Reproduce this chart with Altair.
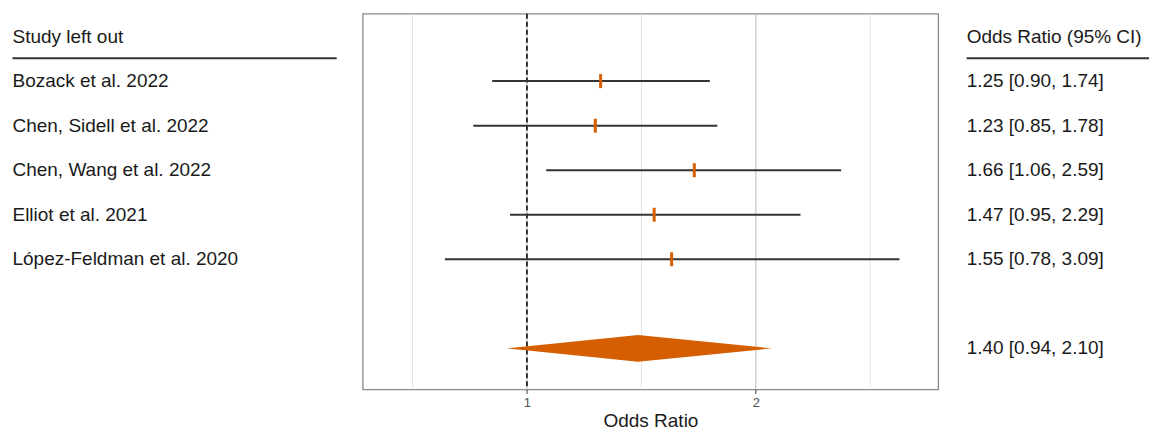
import altair as alt
import pandas as pd

# ---- data ----
studies = ["Bozack et al. 2022", "Chen, Sidell et al. 2022", "Chen, Wang et al. 2022",
           "Elliot et al. 2021", "López-Feldman et al. 2020"]
or_est = [1.25, 1.23, 1.66, 1.47, 1.55]
ci_low = [0.90, 0.85, 1.06, 0.95, 0.78]
ci_high = [1.74, 1.78, 2.59, 2.29, 3.09]
rows = [0, 1, 2, 3, 4]

pooled_est = 1.40
pooled_low = 0.94
pooled_high = 2.10
pooled_row = 6

header_row = -1
underline_row = -0.515
diamond_half = 0.30

major_grid = [1, 2]
minor_grid = [0.7071, 1.4142, 2.8284]
axis_ticks = [1, 2]
null_value = [1]

left_header = "Study left out"
right_header = "Odds Ratio (95% CI)"
x_title = "Odds Ratio"

# ---- layout constants ----
FONT = "Liberation Sans"
FS = 19
H = 376
W_LEFT, W_MID, W_RIGHT = 354, 576, 210
Y_DOMAIN = [-1.514, 6.92]
X_DOMAIN = [0.608, 3.475]
ORANGE = "#D55E00"
TEXTC = "#1a1a1a"
NOBORDER = alt.ViewBackground(strokeOpacity=0, strokeWidth=0)
RX = 27.5

fmt = lambda v: f"{v:.2f}"
df = pd.DataFrame({
    "study": studies, "est": or_est, "lo": ci_low, "hi": ci_high, "row": rows,
    "label": [f"{fmt(e)} [{fmt(l)}, {fmt(h)}]" for e, l, h in zip(or_est, ci_low, ci_high)],
})
pooled = pd.DataFrame({
    "label": [f"{fmt(pooled_est)} [{fmt(pooled_low)}, {fmt(pooled_high)}]"],
    "row": [pooled_row],
})
diamond = pd.DataFrame({
    "x": [pooled_low, pooled_est, pooled_high],
    "y": [pooled_row, pooled_row - diamond_half, pooled_row],
    "y2": [pooled_row, pooled_row + diamond_half, pooled_row],
})

yscale = alt.Scale(domain=Y_DOMAIN, reverse=True, nice=False, zero=False)
xscale = alt.Scale(type="log", domain=X_DOMAIN, nice=False)


def ytext():
    return alt.Y("row:Q", scale=yscale, axis=None)


def text_layer(data, field, xpos):
    return alt.Chart(data).mark_text(align="left", baseline="middle", fontSize=FS, color=TEXTC,
                                     font=FONT).encode(x=alt.value(xpos), y=ytext(), text=f"{field}:N")


# ---- left column ----
left_rows = text_layer(df, "study", 4.5)
left_head = text_layer(pd.DataFrame({"t": [left_header], "row": [header_row]}), "t", 4.5)
left_line = alt.Chart(pd.DataFrame({"row": [underline_row]})).mark_rule(color="#333333", strokeWidth=2).encode(
    x=alt.value(4.5), x2=alt.value(329), y=ytext())
left = alt.layer(left_line, left_head, left_rows).properties(width=W_LEFT, height=H, view=NOBORDER)

# ---- middle forest panel ----
minor = alt.Chart(pd.DataFrame({"v": minor_grid})).mark_rule(color="#e4e4e4", strokeWidth=1).encode(
    x=alt.X("v:Q", scale=xscale, axis=alt.Axis(
        values=axis_ticks, format="~g", grid=False, domain=False, ticks=True, tickSize=4,
        tickColor="#333333", tickWidth=1, labelFontSize=13, labelColor="#4d4d4d", labelFont=FONT,
        labelPadding=3, title=x_title, titleFontSize=FS, titleColor=TEXTC, titleFont=FONT,
        titleFontWeight="normal", titlePadding=2)))
major = alt.Chart(pd.DataFrame({"v": major_grid})).mark_rule(color="#c6c6c6", strokeWidth=1.2).encode(
    x=alt.X("v:Q", scale=xscale))
nullline = alt.Chart(pd.DataFrame({"v": null_value})).mark_rule(color="#000000", strokeWidth=1.5, strokeDash=[5, 3]).encode(
    x=alt.X("v:Q", scale=xscale))
ci = alt.Chart(df).mark_rule(color="#333333", strokeWidth=2).encode(
    x=alt.X("lo:Q", scale=xscale), x2="hi:Q", y=ytext())
pts = alt.Chart(df).mark_tick(orient="vertical", size=14, thickness=3, color=ORANGE, opacity=1).encode(
    x=alt.X("est:Q", scale=xscale), y=ytext())
dia = alt.Chart(diamond).mark_area(color=ORANGE, opacity=1).encode(
    x=alt.X("x:Q", scale=xscale), y=alt.Y("y:Q", scale=yscale, axis=None), y2="y2:Q")
mid = alt.layer(minor, major, nullline, ci, pts, dia).properties(
    width=W_MID, height=H,
    view=alt.ViewBackground(stroke="#8a8a8a", strokeWidth=1.3, strokeOpacity=1))

# ---- right column ----
right_rows = text_layer(df, "label", RX)
right_pool = text_layer(pooled, "label", RX)
right_head = text_layer(pd.DataFrame({"t": [right_header], "row": [header_row]}), "t", RX)
right_line = alt.Chart(pd.DataFrame({"row": [underline_row]})).mark_rule(color="#333333", strokeWidth=2).encode(
    x=alt.value(RX), x2=alt.value(W_RIGHT), y=ytext())
right = alt.layer(right_line, right_head, right_rows, right_pool).properties(width=W_RIGHT, height=H, view=NOBORDER)

chart = alt.hconcat(left, mid, right, spacing=0).properties(
    padding={"top": 3.5, "left": 0, "right": 0, "bottom": 0}
).configure_view(strokeOpacity=0)

chart.save("out.html", embed_options={"renderer": "svg", "actions": False})
